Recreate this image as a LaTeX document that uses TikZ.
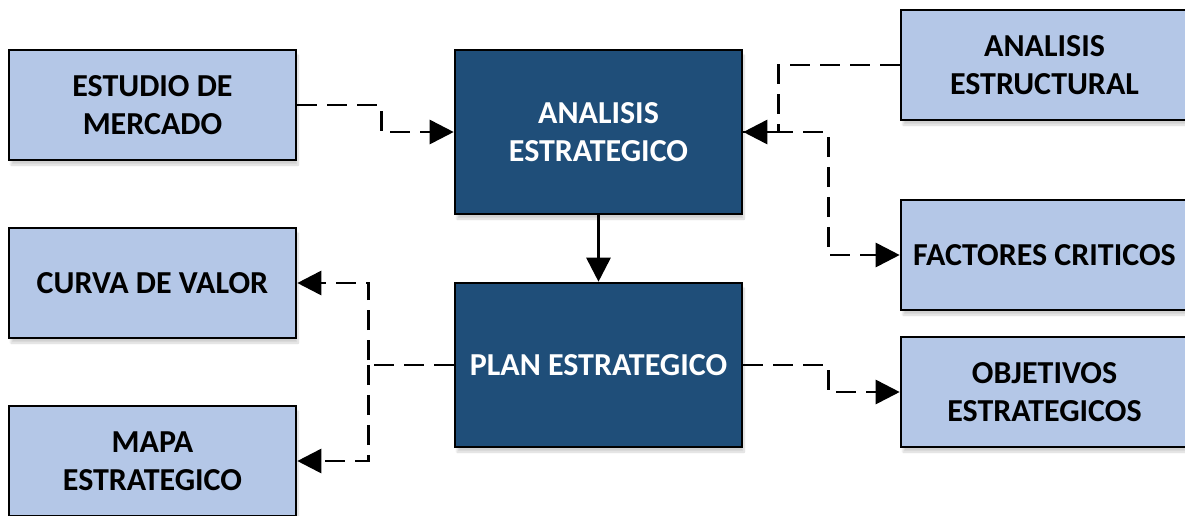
\documentclass[tikz,border=0pt]{standalone}
\usepackage{fontspec}
\setmainfont{Carlito}
\usetikzlibrary{arrows.meta,shadows.blur}
\definecolor{lightbox}{HTML}{B4C7E7}
\definecolor{darkbox}{HTML}{1F4E79}
\tikzset{
  base/.style={draw=black, line width=2.6pt, align=center, inner sep=1pt,
    font=\fontsize{32}{38}\selectfont\bfseries,
    blur shadow={shadow xshift=2pt, shadow yshift=-5pt, shadow blur steps=10, shadow opacity=18}},
  lightnode/.style={base, fill=lightbox, text=black, minimum width=287pt, minimum height=110pt},
  darknode/.style={base, fill=darkbox, text=white, minimum width=287pt, minimum height=164pt},
  tip/.style={-{Triangle[length=24pt,width=24pt]}},
  dashlink/.style={tip, line width=2.8pt, dash pattern=on 20pt off 10pt},
  solidlink/.style={tip, line width=2.8pt},
}
\begin{document}
\begin{tikzpicture}[x=1pt, y=-1pt]
  \useasboundingbox (0,0) rectangle (1185,515);
  % left column
  \node[lightnode] (est) at (152.5,105) {ESTUDIO DE\\MERCADO};
  \node[lightnode] (cv)  at (152.5,283) {CURVA DE VALOR};
  \node[lightnode] (me)  at (152.5,461) {MAPA\\ESTRATEGICO};
  % centre column
  \node[darknode] (ae) at (598.5,132) {ANALISIS\\ESTRATEGICO};
  \node[darknode] (pe) at (598.5,365) {PLAN ESTRATEGICO};
  % right column
  \node[lightnode] (aes) at (1044.5,65)  {ANALISIS\\ESTRUCTURAL};
  \node[lightnode] (fc)  at (1044.5,255) {FACTORES CRITICOS};
  \node[lightnode] (oe)  at (1044.5,392) {OBJETIVOS\\ESTRATEGICOS};
  % connectors
  \draw[dashlink] (est.east) -- ++(84,0) |- (ae.west);
  \draw[dashlink] (aes.west) -- ++(-121,0) |- (ae.east);
  \draw[dashlink] (ae.east) -- ++(85,0) |- (fc.west);
  \draw[solidlink] (ae.south) -- (pe.north);
  \draw[dashlink] (pe.west) -- ++(-85,0) coordinate (split) |- (cv.east);
  \draw[dashlink] (split) |- (me.east);
  \draw[dashlink] (pe.east) -- ++(85,0) |- (oe.west);
\end{tikzpicture}
\end{document}
